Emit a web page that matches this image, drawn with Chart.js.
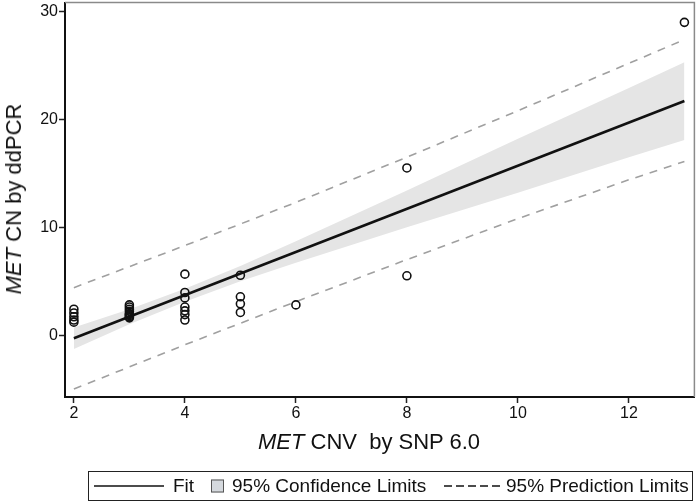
<!DOCTYPE html>
<html>
<head>
<meta charset="utf-8">
<script src="https://cdn.jsdelivr.net/npm/chart.js@4.4.0/dist/chart.umd.min.js"></script>
<style>
  html, body { margin: 0; padding: 0; background: #fff; }
  #wrap { position: relative; width: 700px; height: 503px; overflow: hidden; font-family: "Liberation Sans", Arial, sans-serif; color: #111; }
  #chart { position: absolute; left: 0; top: -3px; }
  .ytitle { position: absolute; left: 14px; top: 199px; transform: translate(-50%, -50%) rotate(-90deg); font-size: 22px; white-space: nowrap; }
  .xtitle { position: absolute; left: 369px; top: 442px; transform: translate(-50%, -50%); font-size: 22px; white-space: nowrap; }
  .legend { position: absolute; left: 88px; top: 471px; width: 603px; height: 28px; border: 1px solid #222; font-size: 19px; white-space: nowrap; overflow: hidden; }
  .legend > * { position: absolute; top: 50%; transform: translateY(-50%); }
  .swatch { width: 11px; height: 11px; background: #d5d9de; border: 1px solid #555; }
</style>
</head>
<body>
<div id="wrap">
  <canvas id="chart" width="700" height="503"></canvas>
  <div class="ytitle"><i>MET</i> CN by ddPCR</div>
  <div class="xtitle"><i>MET</i> CNV&nbsp; by SNP 6.0</div>
  <div class="legend">
    <svg style="left:5px" width="70" height="10"><line x1="0" y1="5" x2="70" y2="5" stroke="#111" stroke-width="1.6"/></svg>
    <span style="left:84px">Fit</span>
    <span class="swatch" style="left:122px"></span>
    <span style="left:143px">95% Confidence Limits</span>
    <svg style="left:355px" width="56" height="10"><line x1="0" y1="5" x2="56" y2="5" stroke="#111" stroke-width="1.4" stroke-dasharray="8,4"/></svg>
    <span style="left:417px">95% Prediction Limits</span>
  </div>
</div>
<script>
// observed points
const obsX = [2, 2, 2, 2, 2,
              3, 3, 3, 3, 3, 3, 3, 3, 3,
              4, 4, 4, 4, 4, 4, 4,
              5, 5, 5, 5,
              6, 8, 8, 13];
const obsY = [2.4, 2.05, 1.7, 1.4, 1.2,
              2.8, 2.6, 2.4, 2.2, 2.0, 1.9, 1.8, 1.7, 1.6,
              5.65, 3.95, 3.45, 2.6, 2.25, 1.9, 1.4,
              5.55, 3.55, 2.9, 2.1,
              2.8, 15.5, 5.5, 29.0];

// fitted line
const fitX = [2, 13];
const fitY = [-0.3, 21.7];

// confidence band
const bandX = [2, 3, 4, 5, 6, 8, 10, 12, 13];
const ciUpper = [0.7, 2.4, 4.3, 6.4, 8.7, 13.4, 18.2, 22.9, 25.3];
const ciLower = [-1.3, 1.0, 3.1, 5.0, 6.7, 10.0, 13.2, 16.5, 18.1];

// prediction limits
const predX = [2, 4, 6, 8, 10, 12, 13];
const piUpper = [4.4, 8.3, 12.3, 16.5, 20.8, 25.2, 27.4];
const piLower = [-5.0, -0.9, 3.1, 7.0, 10.8, 14.4, 16.1];

const xTicks = [2, 4, 6, 8, 10, 12];
const yTicks = [0, 10, 20, 30];

const toPts = (xs, ys) => xs.map((x, i) => ({ x: x, y: ys[i] }));

// gray top/right frame
const framePlugin = {
    id: 'frame',
    beforeDatasetsDraw(chart) {
        const a = chart.chartArea;
        const ctx = chart.ctx;
        ctx.save();
        ctx.strokeStyle = '#8a8a8a';
        ctx.lineWidth = 1.5;
        ctx.beginPath();
        ctx.moveTo(a.left, a.top);
        ctx.lineTo(a.right, a.top);
        ctx.lineTo(a.right, a.bottom);
        ctx.stroke();
        ctx.restore();
    }
};

const ctx = document.getElementById('chart').getContext('2d');
new Chart(ctx, {
    type: 'scatter',
    data: {
        datasets: [
            {
                label: 'Observed',
                data: toPts(obsX, obsY),
                showLine: false,
                pointRadius: 4,
                pointBorderWidth: 1.6,
                pointBorderColor: '#111',
                pointBackgroundColor: 'rgba(255,255,255,0)',
                order: 1
            },
            {
                label: 'Fit',
                data: toPts(fitX, fitY),
                showLine: true,
                borderColor: '#111',
                borderWidth: 2.6,
                pointRadius: 0,
                order: 2
            },
            {
                label: 'Pred upper',
                data: toPts(predX, piUpper),
                showLine: true,
                borderColor: '#a0a0a0',
                borderWidth: 1.6,
                borderDash: [8, 7],
                pointRadius: 0,
                order: 3
            },
            {
                label: 'Pred lower',
                data: toPts(predX, piLower),
                showLine: true,
                borderColor: '#a0a0a0',
                borderWidth: 1.6,
                borderDash: [8, 7],
                pointRadius: 0,
                order: 3
            },
            {
                label: 'CI upper',
                data: toPts(bandX, ciUpper),
                showLine: true,
                borderWidth: 0,
                borderColor: 'rgba(0,0,0,0)',
                pointRadius: 0,
                order: 5
            },
            {
                label: 'CI lower',
                data: toPts(bandX, ciLower),
                showLine: true,
                borderWidth: 0,
                borderColor: 'rgba(0,0,0,0)',
                backgroundColor: '#e5e5e5',
                fill: '-1',
                pointRadius: 0,
                order: 4
            }
        ]
    },
    options: {
        responsive: false,
        animation: false,
        layout: { padding: { top: 2, right: 4, bottom: 73, left: 0 } },
        plugins: {
            legend: { display: false },
            tooltip: { enabled: false },
            filler: { drawTime: 'beforeDatasetsDraw' }
        },
        scales: {
            x: {
                type: 'linear',
                min: 1.84,
                max: 13.18,
                afterFit: s => { s.height = 30; s.paddingLeft = 0; s.paddingRight = 0; },
                afterBuildTicks: s => { s.ticks = xTicks.map(v => ({ value: v })); },
                grid: { drawOnChartArea: false, tickLength: 6, tickWidth: 1.5, tickColor: '#222' },
                border: { color: '#111', width: 2 },
                ticks: { color: '#111', font: { family: 'Liberation Sans', size: 16 }, padding: 1 }
            },
            y: {
                type: 'linear',
                min: -5.74,
                max: 30.83,
                afterFit: s => { s.width = 65; s.paddingTop = 0; s.paddingBottom = 0; },
                afterBuildTicks: s => { s.ticks = yTicks.map(v => ({ value: v })); },
                grid: { drawOnChartArea: false, tickLength: 6, tickWidth: 1.5, tickColor: '#222' },
                border: { color: '#111', width: 2 },
                ticks: { color: '#111', font: { family: 'Liberation Sans', size: 16 }, padding: 1 }
            }
        }
    },
    plugins: [framePlugin]
});
</script>
</body>
</html>
